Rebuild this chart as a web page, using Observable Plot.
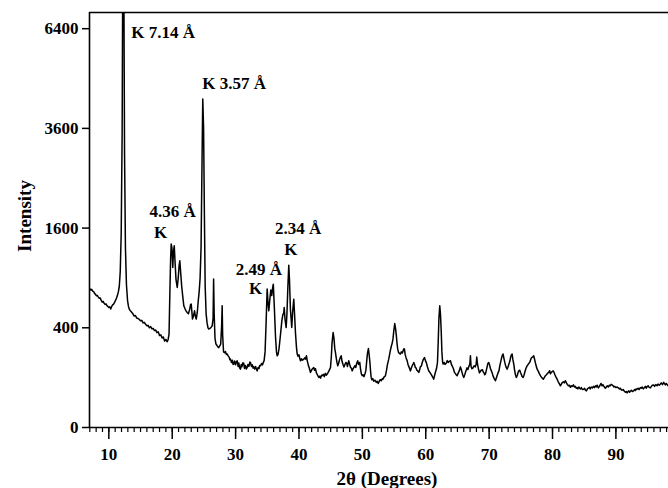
<!DOCTYPE html>
<html>
<head>
<meta charset="utf-8">
<script src="https://cdn.jsdelivr.net/npm/d3@7"></script>
<script src="https://cdn.jsdelivr.net/npm/@observablehq/plot@0.6"></script>
<style>
  html, body { margin: 0; padding: 0; background: #fff; }
  #chart svg { display: block; }
</style>
</head>
<body>
<div id="chart"></div>
<script>
// X-ray diffraction pattern: diffraction angle 2θ (degrees) and measured intensity (counts)
const twoTheta = [
  7.00, 7.15, 7.30, 7.45, 7.60, 7.75, 7.90, 8.05, 8.20, 8.35, 8.50, 8.65, 8.80, 8.95, 9.10, 9.25, 9.40, 9.55, 9.70, 9.85,
  10.00, 10.15, 10.30, 10.45, 10.60, 10.75, 10.90, 11.05, 11.20, 11.35, 11.50, 11.65, 11.80, 11.95, 12.10, 12.22, 12.34, 12.48, 12.62, 12.78,
  12.95, 13.10, 13.25, 13.40, 13.60, 13.80, 14.00, 14.20, 14.40, 14.60, 14.80, 15.00, 15.20, 15.40, 15.60, 15.80, 16.00, 16.20, 16.40, 16.60,
  16.80, 17.00, 17.20, 17.40, 17.60, 17.80, 18.00, 18.20, 18.40, 18.60, 18.80, 19.00, 19.20, 19.35, 19.50, 19.62, 19.75, 19.84, 19.95, 20.09,
  20.20, 20.32, 20.45, 20.60, 20.79, 20.95, 21.08, 21.20, 21.35, 21.50, 21.65, 21.83, 22.00, 22.20, 22.37, 22.55, 22.75, 22.90, 23.00, 23.10,
  23.20, 23.35, 23.52, 23.65, 23.79, 23.95, 24.10, 24.25, 24.40, 24.55, 24.70, 24.82, 24.95, 25.08, 25.20, 25.35, 25.50, 25.65, 25.77, 25.95,
  26.15, 26.31, 26.45, 26.53, 26.62, 26.75, 26.90, 27.05, 27.20, 27.35, 27.50, 27.65, 27.80, 27.88, 27.96, 28.10, 28.25, 28.40, 28.55, 28.68,
  28.85, 29.00, 29.10, 29.20, 29.35, 29.50, 29.60, 29.72, 29.85, 30.00, 30.10, 30.25, 30.40, 30.50, 30.65, 30.77, 30.90, 31.00, 31.15, 31.29,
  31.40, 31.55, 31.70, 31.83, 31.95, 32.10, 32.25, 32.35, 32.50, 32.65, 32.75, 32.87, 33.00, 33.15, 33.30, 33.41, 33.55, 33.70, 33.80, 33.93,
  34.10, 34.25, 34.40, 34.50, 34.65, 34.80, 34.98, 35.12, 35.24, 35.40, 35.55, 35.70, 35.85, 35.95, 36.10, 36.30, 36.45, 36.56, 36.70, 36.85,
  37.00, 37.15, 37.30, 37.45, 37.60, 37.67, 37.80, 37.98, 38.10, 38.25, 38.39, 38.50, 38.65, 38.86, 39.00, 39.18, 39.30, 39.45, 39.60, 39.72,
  39.85, 40.00, 40.10, 40.24, 40.40, 40.55, 40.76, 40.90, 41.03, 41.18, 41.30, 41.50, 41.65, 41.81, 41.95, 42.10, 42.33, 42.45, 42.60, 42.75,
  42.90, 43.12, 43.25, 43.40, 43.55, 43.70, 43.85, 44.00, 44.15, 44.30, 44.45, 44.60, 44.75, 44.97, 45.10, 45.22, 45.39, 45.52, 45.65, 45.76,
  45.90, 46.00, 46.12, 46.25, 46.40, 46.55, 46.66, 46.80, 46.95, 47.10, 47.25, 47.40, 47.50, 47.65, 47.75, 47.85, 48.00, 48.15, 48.30, 48.39,
  48.55, 48.70, 48.83, 48.95, 49.10, 49.27, 49.40, 49.59, 49.70, 49.85, 49.97, 50.10, 50.25, 50.41, 50.55, 50.65, 50.80, 50.96, 51.08, 51.20,
  51.30, 51.39, 51.50, 51.65, 51.80, 51.95, 52.07, 52.20, 52.35, 52.50, 52.59, 52.75, 52.86, 53.00, 53.15, 53.25, 53.38, 53.50, 53.64, 53.80,
  53.95, 54.16, 54.30, 54.45, 54.59, 54.70, 54.83, 54.97, 55.11, 55.25, 55.38, 55.48, 55.58, 55.70, 55.85, 56.01, 56.15, 56.32, 56.45, 56.55,
  56.64, 56.75, 56.90, 57.07, 57.20, 57.35, 57.45, 57.59, 57.70, 57.85, 58.00, 58.11, 58.25, 58.35, 58.46, 58.60, 58.75, 58.90, 59.05, 59.15,
  59.32, 59.45, 59.60, 59.80, 59.95, 60.11, 60.25, 60.35, 60.47, 60.60, 60.75, 60.90, 61.05, 61.15, 61.26, 61.40, 61.55, 61.70, 61.85, 61.97,
  62.08, 62.21, 62.32, 62.44, 62.55, 62.65, 62.74, 62.90, 63.05, 63.26, 63.40, 63.55, 63.70, 63.90, 64.05, 64.20, 64.37, 64.50, 64.65, 64.80,
  64.95, 65.10, 65.30, 65.47, 65.60, 65.75, 65.85, 66.00, 66.15, 66.30, 66.50, 66.65, 66.80, 66.95, 67.05, 67.15, 67.29, 67.45, 67.55, 67.68,
  67.80, 67.95, 68.05, 68.15, 68.30, 68.47, 68.60, 68.75, 68.94, 69.05, 69.20, 69.30, 69.42, 69.55, 69.70, 69.80, 69.94, 70.05, 70.20, 70.36,
  70.50, 70.65, 70.80, 70.99, 71.10, 71.25, 71.40, 71.55, 71.70, 71.86, 72.00, 72.10, 72.21, 72.35, 72.49, 72.60, 72.70, 72.84, 72.95, 73.10,
  73.28, 73.40, 73.50, 73.63, 73.75, 73.91, 74.00, 74.15, 74.30, 74.45, 74.60, 74.70, 74.83, 74.95, 75.10, 75.20, 75.36, 75.50, 75.65, 75.80,
  75.99, 76.15, 76.25, 76.40, 76.55, 76.67, 76.85, 77.03, 77.15, 77.30, 77.45, 77.57, 77.75, 77.90, 78.09, 78.25, 78.40, 78.56, 78.70, 78.88,
  79.05, 79.20, 79.40, 79.55, 79.67, 79.80, 79.95, 80.10, 80.25, 80.38, 80.55, 80.73, 80.90, 81.05, 81.25, 81.40, 81.55, 81.72, 81.85, 82.04,
  82.20, 82.35, 82.51, 82.65, 82.83, 82.95, 83.10, 83.30, 83.45, 83.60, 83.75, 83.88, 84.00, 84.15, 84.30, 84.40, 84.55, 84.70, 84.92, 85.05,
  85.20, 85.35, 85.50, 85.65, 85.82, 85.95, 86.10, 86.29, 86.45, 86.60, 86.77, 86.90, 87.05, 87.24, 87.40, 87.55, 87.66, 87.80, 87.95, 88.03,
  88.20, 88.34, 88.50, 88.65, 88.82, 88.95, 89.10, 89.25, 89.40, 89.55, 89.70, 89.84, 90.00, 90.20, 90.39, 90.55, 90.70, 90.85, 90.98, 91.15,
  91.34, 91.50, 91.65, 91.77, 91.90, 92.05, 92.15, 92.29, 92.45, 92.60, 92.81, 92.95, 93.10, 93.20, 93.34, 93.50, 93.65, 93.86, 94.00, 94.15,
  94.34, 94.50, 94.65, 94.80, 94.92, 95.10, 95.25, 95.44, 95.60, 95.75, 95.96, 96.10, 96.30, 96.50, 96.65, 96.85, 97.02, 97.15, 97.35, 97.54,
  97.65, 97.81, 97.95, 98.10, 98.23, 98.30
];

const intensity = [
  775, 760, 768, 748, 742, 725, 712, 698, 700, 684, 672, 675, 650, 632, 640, 622, 610, 615, 598, 590,
  580, 586, 565, 590, 605, 612, 630, 650, 672, 700, 740, 800, 980, 1500, 3500, 9800, 9800, 3000, 1300, 820,
  650, 590, 560, 548, 535, 520, 500, 505, 482, 478, 470, 458, 462, 440, 445, 428, 416, 420, 400, 410,
  392, 395, 378, 382, 362, 368, 340, 345, 322, 330, 300, 312, 296, 310, 350, 700, 1150, 1354, 1300, 1030,
  1250, 1328, 1100, 880, 789, 900, 1050, 1118, 950, 800, 700, 596, 570, 545, 532, 520, 560, 610, 613, 540,
  473, 500, 548, 500, 473, 530, 640, 740, 900, 1300, 2800, 4340, 3600, 1800, 800, 520, 440, 400, 390, 395,
  405, 416, 480, 886, 520, 320, 280, 272, 262, 257, 268, 280, 420, 596, 340, 230, 225, 232, 215, 217,
  205, 198, 185, 188, 170, 182, 160, 162, 178, 158, 172, 179, 150, 168, 142, 137, 160, 148, 168, 166,
  140, 155, 138, 145, 160, 150, 172, 170, 150, 158, 142, 148, 138, 150, 135, 129, 145, 140, 155, 153,
  165, 158, 172, 180, 230, 420, 771, 620, 548, 660, 760, 700, 790, 827, 600, 330, 230, 207, 215, 250,
  310, 380, 460, 510, 530, 580, 470, 402, 520, 800, 1060, 880, 560, 402, 540, 663, 520, 360, 260, 217,
  205, 212, 196, 179, 190, 182, 188, 195, 188, 207, 180, 153, 140, 122, 130, 138, 145, 132, 139, 120,
  112, 101, 106, 98, 110, 108, 114, 104, 118, 110, 115, 122, 130, 145, 200, 290, 363, 320, 250, 226,
  190, 170, 153, 165, 185, 200, 207, 175, 160, 148, 160, 170, 168, 150, 165, 179, 160, 145, 140, 129,
  140, 148, 153, 145, 165, 179, 160, 170, 140, 115, 108, 112, 104, 116, 130, 165, 220, 251, 210, 168,
  125, 101, 92, 96, 86, 90, 88, 82, 86, 78, 82, 90, 92, 88, 96, 94, 101, 104, 108, 130,
  158, 188, 215, 245, 269, 285, 316, 380, 435, 390, 331, 280, 247, 228, 220, 217, 230, 224, 240, 250,
  247, 215, 195, 179, 160, 148, 140, 129, 140, 152, 162, 170, 158, 145, 143, 132, 128, 122, 135, 148,
  153, 170, 185, 197, 180, 168, 150, 140, 129, 125, 118, 111, 104, 100, 94, 110, 125, 140, 170, 300,
  480, 596, 520, 376, 230, 175, 162, 170, 160, 168, 180, 170, 176, 179, 160, 150, 139, 125, 118, 112,
  108, 118, 130, 148, 135, 120, 110, 101, 112, 125, 143, 135, 150, 160, 207, 150, 139, 142, 150, 153,
  148, 160, 200, 165, 140, 120, 126, 132, 134, 125, 120, 112, 115, 130, 150, 165, 170, 160, 140, 129,
  118, 105, 96, 88, 96, 108, 120, 129, 155, 179, 200, 212, 217, 190, 168, 155, 145, 137, 145, 160,
  179, 200, 212, 217, 185, 158, 135, 112, 101, 110, 125, 130, 132, 122, 112, 105, 101, 110, 125, 140,
  153, 160, 165, 170, 185, 195, 200, 207, 190, 168, 150, 137, 128, 118, 108, 102, 98, 94, 100, 108,
  112, 118, 122, 130, 116, 122, 126, 129, 122, 112, 102, 94, 84, 78, 70, 76, 82, 84, 80, 88,
  80, 74, 70, 72, 65, 70, 68, 73, 66, 68, 62, 64, 60, 66, 62, 60, 64, 58, 59, 62,
  56, 54, 60, 62, 65, 60, 66, 63, 68, 64, 70, 66, 72, 63, 68, 74, 78, 70, 74, 70,
  66, 62, 66, 70, 66, 72, 70, 75, 73, 70, 66, 68, 64, 66, 63, 60, 62, 57, 56, 58,
  53, 50, 52, 48, 52, 54, 50, 53, 56, 52, 54, 58, 55, 60, 59, 62, 58, 64, 62, 66,
  60, 64, 68, 62, 67, 70, 65, 63, 68, 72, 73, 68, 74, 70, 76, 72, 76, 80, 74, 82,
  78, 73, 78, 74, 70, 72
];

// Axis ticks
const yTicks = [0, 400, 1600, 3600, 6400];
const xTicks = [10, 20, 30, 40, 50, 60, 70, 80, 90];
const xMinorTicks = d3.range(7, 99);

// Peak labels (d-spacings; K = kaolinite), anchored in data coordinates
const peakText = ["K 7.14 Å", "K 3.57 Å", "4.36 Å", "K", "2.49 Å", "K", "2.34 Å", "K"];
const peakAt2θ = [13.53, 24.73, 20.05, 18.15, 33.66, 33.14, 39.87, 38.71];
const peakAtI = [6280, 4750, 1880, 1530, 1010, 782, 1594, 1281];
const peakAnchor = ["start", "start", "middle", "middle", "middle", "middle", "middle", "middle"];

const xDomain = [6.95, 98.3];
const yDomain = [0, 6930];

const pattern = twoTheta.map((t, i) => ({t, i: intensity[i]}));
const peaks = peakText.map((label, k) => ({label, t: peakAt2θ[k], i: peakAtI[k], anchor: peakAnchor[k]}));

const font = "Liberation Serif, Times New Roman, serif";

const chart = Plot.plot({
  width: 668,
  height: 488,
  marginLeft: 89,
  marginRight: 0,
  marginTop: 12,
  marginBottom: 61,
  style: {fontFamily: font, fontSize: "17px", fontWeight: "bold", color: "black", background: "white"},
  x: {domain: xDomain},
  y: {type: "sqrt", domain: yDomain},
  marks: [
    Plot.axisY({ticks: yTicks, tickSize: 7, tickPadding: 4, tickFormat: d => String(d), label: null, strokeWidth: 1.5}),
    Plot.axisX({ticks: xMinorTicks, tickSize: 5, text: null, label: null, strokeWidth: 1.2}),
    Plot.axisX({ticks: xTicks, tickSize: 12, tickPadding: 8, label: null, strokeWidth: 1.5}),
    Plot.ruleY([yDomain[0]], {stroke: "black", strokeWidth: 1.6}),
    Plot.ruleY([yDomain[1]], {stroke: "black", strokeWidth: 1.6}),
    Plot.ruleX([xDomain[0]], {stroke: "black", strokeWidth: 1.6}),
    Plot.line(pattern, {x: "t", y: "i", stroke: "black", strokeWidth: 1.5, clip: true}),
    Plot.text(peaks.filter(d => d.anchor === "start"), {x: "t", y: "i", text: "label", textAnchor: "start", fontSize: 17, fontWeight: "bold"}),
    Plot.text(peaks.filter(d => d.anchor === "middle"), {x: "t", y: "i", text: "label", textAnchor: "middle", fontSize: 17, fontWeight: "bold"}),
    Plot.text(["Intensity"], {frameAnchor: "left", textAnchor: "middle", lineAnchor: "middle", rotate: -90, dx: -65, dy: -4, fontSize: 19, fontWeight: "bold"}),
    Plot.text(["2θ (Degrees)"], {frameAnchor: "bottom", textAnchor: "middle", lineAnchor: "middle", dx: 8, dy: 51, fontSize: 19, fontWeight: "bold"})
  ]
});

document.getElementById("chart").appendChild(chart);
</script>
</body>
</html>
